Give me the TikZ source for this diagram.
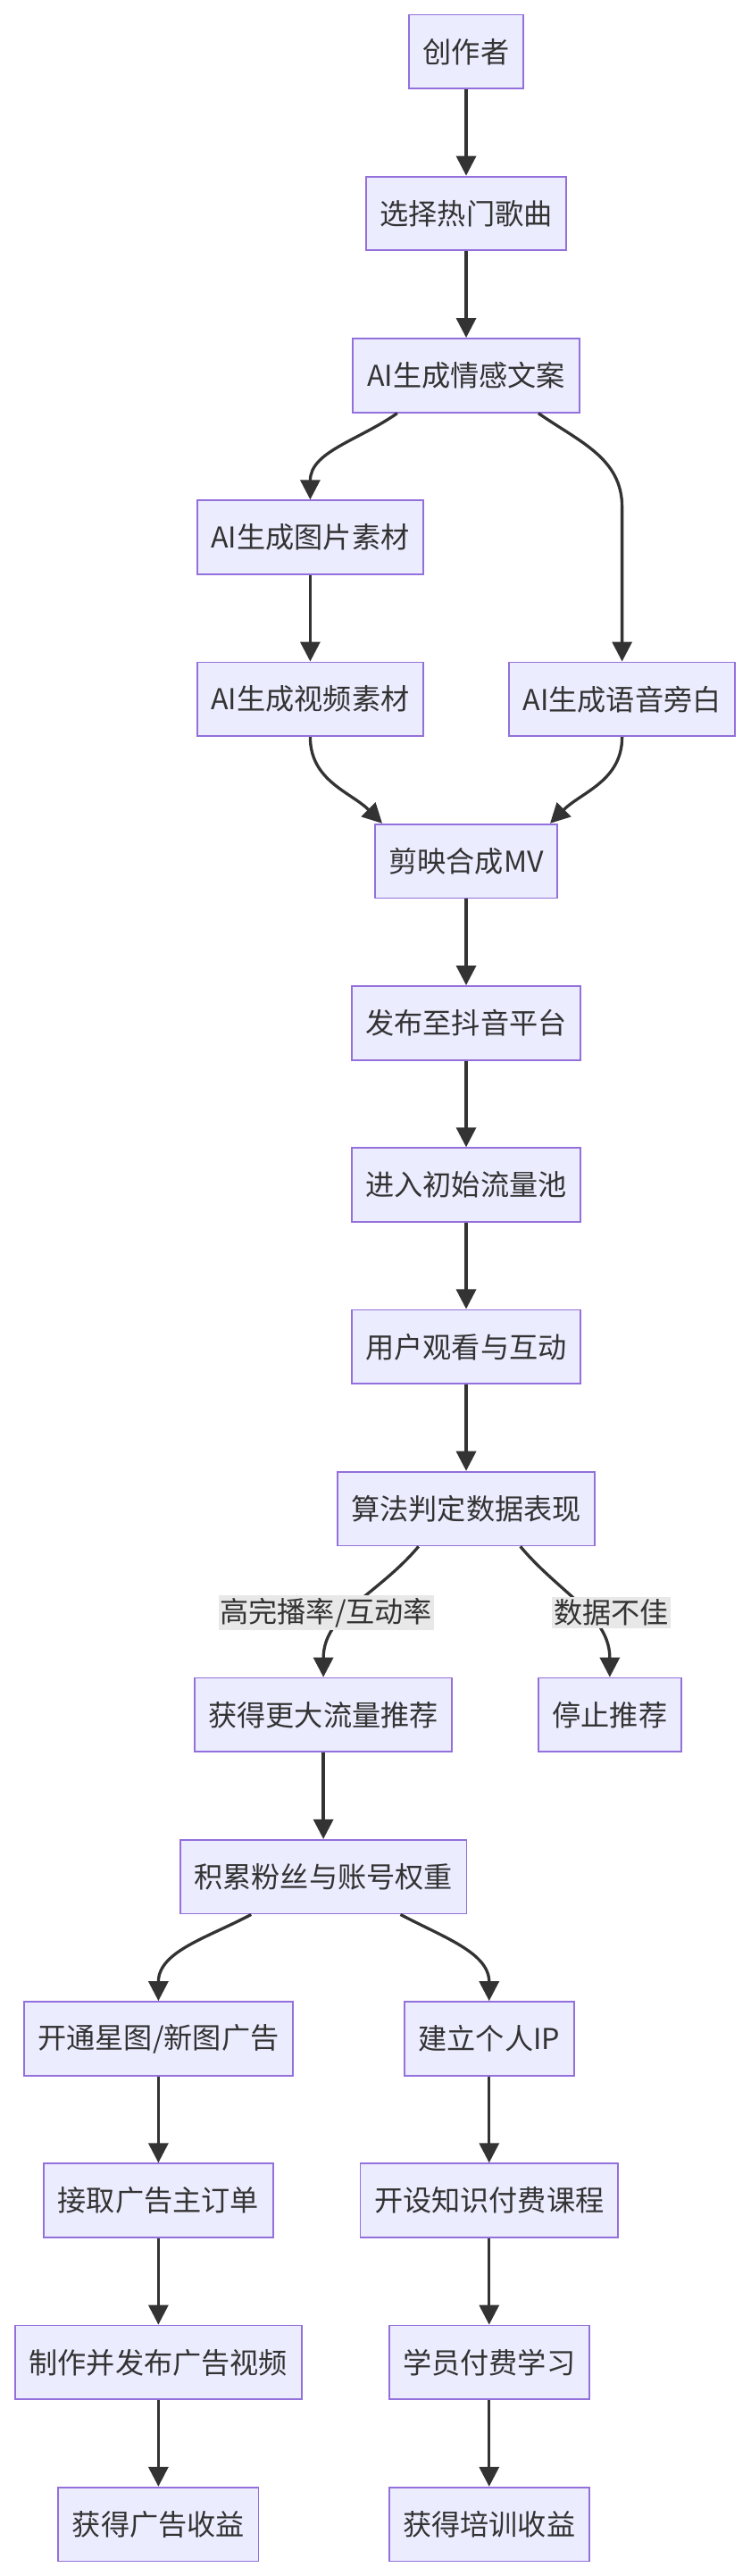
\documentclass[tikz,border=0pt]{standalone}
\usepackage{fontspec}
\setmainfont{Noto Sans CJK SC}
\usepackage{tikz}
\usetikzlibrary{arrows.meta}
\usepackage{xcolor}
\definecolor{boxfill}{HTML}{ECECFF}
\definecolor{boxline}{HTML}{9370DB}
\definecolor{ink}{HTML}{333333}
\definecolor{lblfill}{HTML}{E8E8E8}

\begin{document}
\begin{tikzpicture}[ x=1pt, y=1pt, >={Triangle[length=12pt,width=12pt]},
      box/.style={draw=boxline, fill=boxfill, line width=1pt, text=ink,
        minimum height=45pt, inner xsep=8.5pt, inner ysep=0pt,
        font=\fontsize{17.5}{21}\selectfont},
      flow/.style={->, draw=ink, line width=1.8pt},
      lbl/.style={fill=lblfill, text=ink, inner xsep=1pt, inner ysep=1.5pt,
        font=\fontsize{17.5}{21}\selectfont} ]

      \useasboundingbox (0,0) rectangle (457,-1569);

      % Production
      \node[box] (author) at (284,-31.5) {创作者};
      \node[box] (song) at (284,-130) {选择热门歌曲};
      \node[box] (copy) at (284,-228.7) {AI生成情感文案};
      \node[box] (img) at (189,-327.3) {AI生成图片素材};
      \node[box] (video) at (189,-425.9) {AI生成视频素材};
      \node[box] (voice) at (379,-425.9) {AI生成语音旁白};
      \node[box] (mv) at (284,-524.5) {剪映合成MV};

      % Platform
      \node[box] (publish) at (284,-623.1) {发布至抖音平台};
      \node[box] (pool) at (284,-721.7) {进入初始流量池};
      \node[box] (watch) at (284,-820.3) {用户观看与互动};
      \node[box] (algo) at (284,-918.9) {算法判定数据表现};
      \node[box] (boost) at (197,-1044.5) {获得更大流量推荐};
      \node[box] (stop) at (371.5,-1044.5) {停止推荐};
      \node[box] (fans) at (197,-1143.1) {积累粉丝与账号权重};

      % Income
      \node[box] (adopen) at (96.5,-1241.7) {开通星图/新图广告};
      \node[box] (adorder) at (96.5,-1340.3) {接取广告主订单};
      \node[box] (admake) at (96.5,-1438.9) {制作并发布广告视频};
      \node[box] (adincome) at (96.5,-1537.5) {获得广告收益};
      \node[box] (ipbuild) at (298,-1241.7) {建立个人IP};
      \node[box] (course) at (298,-1340.3) {开设知识付费课程};
      \node[box] (learn) at (298,-1438.9) {学员付费学习};
      \node[box] (trainincome) at (298,-1537.5) {获得培训收益};

      % Straight arrows
      \foreach \a/\b in {author/song, song/copy, img/video, mv/publish,
        publish/pool, pool/watch, watch/algo, boost/fans, adopen/adorder,
        adorder/admake, admake/adincome, ipbuild/course, course/learn,
        learn/trainincome}
        \draw[flow] (\a) -- (\b);

      % Fork and merge
      \draw[flow] ([xshift=-42pt]copy.south) to[out=-145, in=90] (img.north);
      \draw[flow] ([xshift=44pt]copy.south) to[out=-35, in=90]
        ([yshift=94pt]voice.north) -- (voice.north);
      \draw[flow] (video.south) to[out=-90, in=135] ([xshift=5pt]mv.north west);
      \draw[flow] (voice.south) to[out=-90, in=45] ([xshift=-5pt]mv.north east);

      % Decision
      \draw[flow] ([xshift=-29pt]algo.south) to[out=-130, in=90]
        node[lbl, xshift=-18pt, yshift=-4pt] {高完播率/互动率} (boost.north);
      \draw[flow] ([xshift=33pt]algo.south) to[out=-50, in=90]
        node[lbl, xshift=19pt, yshift=-4pt] {数据不佳} (stop.north);

      % Two ways to earn
      \draw[flow] ([xshift=-44pt]fans.south) to[out=-152, in=90] (adopen.north);
      \draw[flow] ([xshift=47pt]fans.south) to[out=-28, in=90] (ipbuild.north);
    \end{tikzpicture}
\end{document}
